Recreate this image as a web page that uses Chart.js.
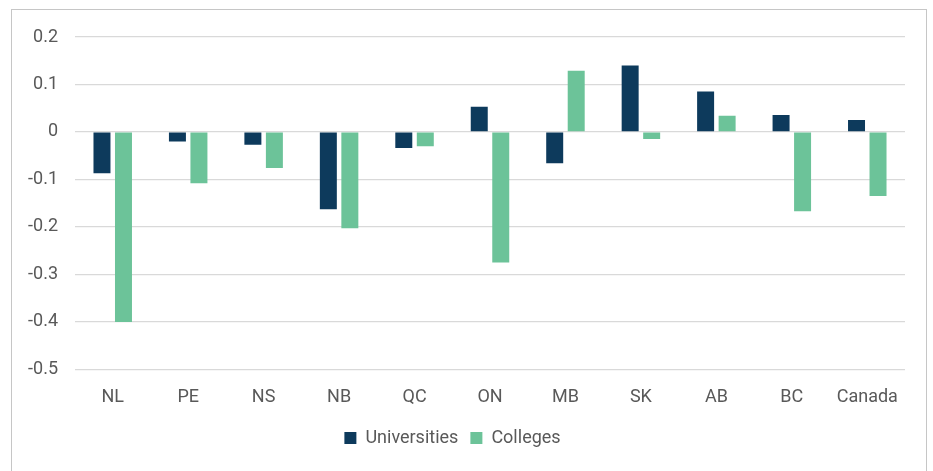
<!DOCTYPE html>
<html>
<head>
<meta charset="utf-8">
<script src="https://cdn.jsdelivr.net/npm/chart.js@4/dist/chart.umd.min.js"></script>
<style>
  html, body { margin: 0; padding: 0; background: #fff; }
  #wrap { position: relative; width: 933px; height: 471px; }
  #frame { position: absolute; left: 11px; top: 9px; width: 916px; height: 470px; border: 1px solid #c6c6c6; box-sizing: border-box; }
  #canvas { position: absolute; left: 0; top: 0; }
</style>
</head>
<body>
<div id="wrap">
  <div id="frame"></div>
  <canvas id="canvas" width="933" height="471"></canvas>
</div>
<script>
// provinces along the x axis
const provinces = ["NL", "PE", "NS", "NB", "QC", "ON", "MB", "SK", "AB", "BC", "Canada"]
// values
const universities = [-0.087, -0.020, -0.027, -0.163, -0.034, 0.053, -0.066, 0.140, 0.085, 0.036, 0.025]
const colleges = [-0.400, -0.108, -0.076, -0.203, -0.030, -0.275, 0.129, -0.015, 0.034, -0.167, -0.135]
const yTicks = [0.2, 0.1, 0, -0.1, -0.2, -0.3, -0.4, -0.5]

const textColor = "#595959"
const font = { family: "Roboto", size: 18 }

const target = document.querySelector("#canvas")
const myBarChart = new Chart(target, {
    type: "bar",
    data: {
        labels: provinces,
        datasets: [{
            label: "Universities",
            backgroundColor: "#0d3a5c",
            categoryPercentage: 0.57,
            barPercentage: 0.79,
            data: universities
        }, {
            label: "Colleges",
            backgroundColor: "#6cc399",
            categoryPercentage: 0.57,
            barPercentage: 0.79,
            data: colleges
        }]
    },
    options: {
        responsive: false,
        animation: false,
        layout: { padding: { left: 0, right: 28, top: 37, bottom: 14 } },
        plugins: {
            tooltip: { enabled: false },
            legend: {
                position: "bottom",
                labels: {
                    color: textColor,
                    font: font,
                    boxWidth: 12,
                    boxHeight: 12,
                    padding: 12
                }
            }
        },
        scales: {
            x: {
                grid: { display: false },
                border: { display: false },
                ticks: { color: textColor, font: font, padding: 9, maxRotation: 0 }
            },
            y: {
                min: -0.5,
                max: 0.2,
                afterBuildTicks: axis => { axis.ticks = yTicks.map(v => ({ value: v })) },
                afterFit: axis => { axis.width = 75 },
                grid: { color: "#d9d9d9", lineWidth: 1.3, drawTicks: false },
                border: { display: false },
                ticks: {
                    color: textColor,
                    font: font,
                    padding: 17,
                    callback: v => (Math.round(v * 10) / 10).toString()
                }
            }
        }
    }
});
</script>
</body>
</html>
